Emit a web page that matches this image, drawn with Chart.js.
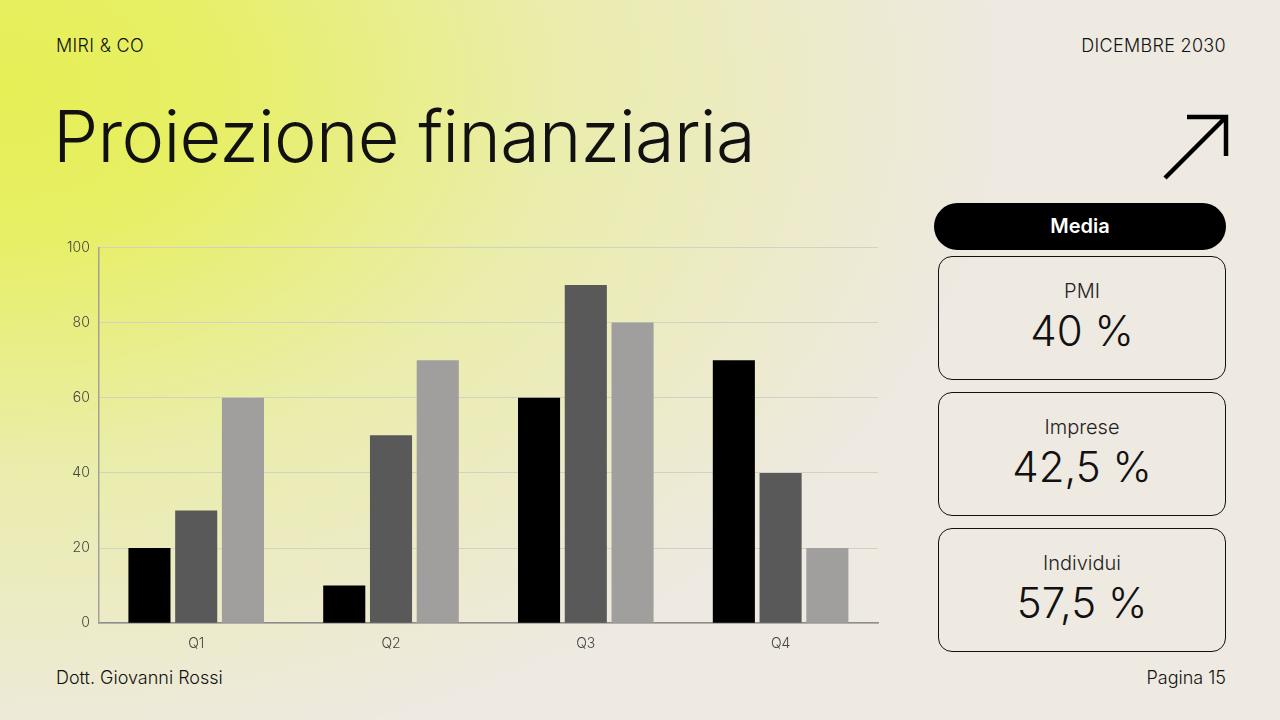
<!DOCTYPE html>
<html lang="it">
<head>
<meta charset="utf-8">
<title>Proiezione finanziaria</title>
<script src="https://cdn.jsdelivr.net/npm/chart.js@4.4.1/dist/chart.umd.min.js"></script>
<style>
  html, body { margin: 0; padding: 0; }
  body {
    width: 1280px; height: 720px; overflow: hidden; position: relative;
    font-family: "Inter", "Noto Sans", sans-serif; color: #111;
    background: #eee9e1;
  }
  .bg {
    position: absolute; inset: 0;
    background: radial-gradient(ellipse 1000px 680px at 0px 90px, #e6ef55 0%, #e7ef66 22%, #eaedaa 55%, rgba(238,233,225,0) 100%);
  }
  .top { position: absolute; top: 35px; font-size: 18px; font-weight: 300; letter-spacing: 0.3px; }
  .bot { position: absolute; top: 667px; font-size: 18px; font-weight: 300; }
  h1 {
    position: absolute; left: 53px; top: 92px; margin: 0;
    font-size: 72px; font-weight: 300; letter-spacing: -0.7px;
  }
  #chartBox { position: absolute; left: 40px; top: 230px; width: 850px; height: 426px; }
  .pill {
    position: absolute; left: 934px; top: 203px; width: 292px; height: 47px;
    background: #000; color: #fff; border-radius: 24px;
    font-size: 20px; font-weight: 600; text-align: center; line-height: 46px;
  }
  .card {
    position: absolute; left: 938px; width: 286px; height: 122px;
    border: 1.5px solid #111; border-radius: 14px; text-align: center;
  }
  .card .lbl { font-size: 20px; font-weight: 300; margin-top: 22px; color: #222; }
  .card .val { font-size: 42px; font-weight: 300; margin-top: 2px; }
  svg { position: absolute; left: 1150px; top: 105px; }
</style>
</head>
<body>
<div class="bg"></div>
<div class="top" style="left:56px">MIRI &amp; CO</div>
<div class="top" style="right:54px">DICEMBRE 2030</div>
<h1>Proiezione finanziaria</h1>
<svg width="90" height="85" viewBox="0 0 90 85">
  <path d="M15 73 L76 12 M37 12 L76 12 L76 51" fill="none" stroke="#000" stroke-width="4.5"/>
</svg>

<div id="chartBox"><canvas id="chart"></canvas></div>

<div class="pill">Media</div>
<div class="card" style="top:256px"><div class="lbl">PMI</div><div class="val">40 %</div></div>
<div class="card" style="top:392px"><div class="lbl">Imprese</div><div class="val">42,5 %</div></div>
<div class="card" style="top:528px"><div class="lbl">Individui</div><div class="val">57,5 %</div></div>

<div class="bot" style="left:56px">Dott. Giovanni Rossi</div>
<div class="bot" style="right:54px">Pagina 15</div>

<script>
// dati del grafico
const quarters = ['Q1', 'Q2', 'Q3', 'Q4'];
const pmiValues = [20, 10, 60, 70];
const impreseValues = [30, 50, 90, 40];
const individuiValues = [60, 70, 80, 20];
const seriesNames = ['PMI', 'Imprese', 'Individui'];
const seriesColors = ['#000000', '#5a5959', '#a19f9d'];

const tickFont = { family: 'Inter', size: 14, weight: '300' };

const ctx = document.getElementById('chart').getContext('2d');
const chart = new Chart(ctx, {
  type: 'bar',
  data: {
    labels: quarters,
    datasets: [pmiValues, impreseValues, individuiValues].map((vals, i) => ({
      label: seriesNames[i],
      data: vals,
      backgroundColor: seriesColors[i],
      categoryPercentage: 0.72,
      barPercentage: 0.9
    }))
  },
  options: {
    responsive: true,
    maintainAspectRatio: false,
    animation: false,
    layout: { padding: { left: 18, right: 12, top: 4, bottom: 0 } },
    plugins: { legend: { display: false }, tooltip: { enabled: false } },
    scales: {
      x: {
        grid: { display: false },
        border: { color: '#8f8d88', width: 1.5 },
        ticks: { color: '#444', padding: 4, font: tickFont }
      },
      y: {
        min: 0, max: 100,
        ticks: { stepSize: 20, color: '#444', padding: 9, font: tickFont },
        grid: { color: '#d3d0c6', drawTicks: false },
        border: { color: '#a3a19a', width: 1.5 }
      }
    }
  }
});
</script>
</body>
</html>
